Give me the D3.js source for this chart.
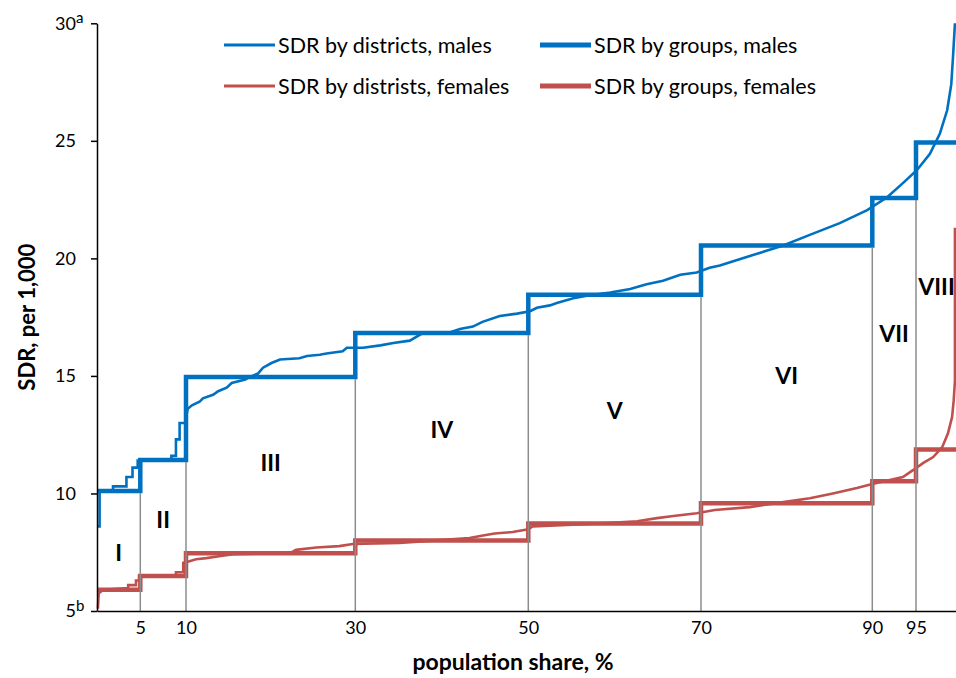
<!DOCTYPE html>
<html>
<head>
<meta charset="utf-8">
<script src="https://cdn.jsdelivr.net/npm/d3@7"></script>
<style>
  body { margin: 0; background: #fff; }
  text { font-family: Lato, "Open Sans", sans-serif; }
</style>
</head>
<body>
<script>
const width = 956;
const height = 678;

// group boundaries (population share, %) and group names
const groupBreaks = [0, 5, 10, 30, 50, 70, 90, 95, 100];
const groupNames = ["I", "II", "III", "IV", "V", "VI", "VII", "VIII"];
const groupMales = [10.1, 11.42, 14.95, 16.83, 18.45, 20.55, 22.57, 24.93];
const groupFemales = [5.9, 6.49, 7.46, 8.0, 8.72, 9.58, 10.52, 11.87];
const labelLevel = [7.46, 8.87, 11.3, 12.7, 13.5, 15.0, 16.8, 18.8];

// SDR by districts, [population share %, SDR]
const districtsMales = [
  [0, 8.6], [0.3, 8.6], [0.3, 10.1], [1.85, 10.1], [1.85, 10.3], [3.4, 10.3], [3.4, 10.7],
  [4.1, 10.7], [4.1, 11.1], [4.7, 11.1], [4.7, 11.4], [8.4, 11.4], [8.4, 11.6], [8.9, 11.6],
  [8.9, 12.3], [9.3, 12.3], [9.3, 13.0], [9.9, 13.0], [10.2, 13.6], [10.7, 13.75], [11.6, 13.9],
  [12.0, 14.05], [13.2, 14.2], [13.8, 14.35], [14.8, 14.5], [15.4, 14.7], [17.0, 14.85],
  [17.5, 14.95], [18.5, 15.1], [19.1, 15.35], [20.1, 15.55], [21.1, 15.7], [23.4, 15.75],
  [24.3, 15.85], [25.8, 15.9], [26.6, 15.95], [28.5, 16.05], [29.0, 16.2], [30.9, 16.2],
  [32.9, 16.3], [34.4, 16.4], [36.3, 16.5], [37.7, 16.8], [40.9, 16.85], [42.1, 17.0],
  [43.6, 17.1], [44.7, 17.3], [46.7, 17.55], [48.7, 17.65], [50.2, 17.75], [51.0, 17.9],
  [52.5, 18.0], [53.3, 18.1], [55.2, 18.3], [57.1, 18.43], [59.5, 18.55], [61.8, 18.7],
  [63.7, 18.9], [65.6, 19.05], [67.6, 19.3], [69.5, 19.4], [71.0, 19.6], [72.2, 19.7],
  [75.7, 20.1], [79.6, 20.55], [82.7, 21.0], [86.2, 21.5], [89.4, 22.05], [91.7, 22.6],
  [93.5, 23.2], [95.1, 23.75], [96.7, 24.45], [97.9, 25.3], [98.8, 26.3], [99.3, 27.4],
  [99.5, 28.5], [99.75, 30.0]
];
const districtsFemales = [
  [0.1, 5.1], [0.2, 5.75], [0.7, 5.9], [3.6, 5.98], [3.6, 6.1], [4.5, 6.1], [4.5, 6.3],
  [4.85, 6.3], [4.85, 6.5], [8.9, 6.5], [8.9, 6.65], [9.7, 6.65], [9.7, 7.05], [10.2, 7.1],
  [11.2, 7.2], [12.4, 7.25], [13.9, 7.33], [15.6, 7.42], [22.3, 7.46], [23.0, 7.6],
  [25.4, 7.7], [28.1, 7.76], [29.7, 7.85], [35.1, 7.9], [43.2, 8.1], [44.6, 8.2],
  [46.1, 8.3], [48.2, 8.36], [50.0, 8.48], [50.5, 8.6], [59.1, 8.74], [62.6, 8.82],
  [64.9, 8.95], [66.8, 9.04], [69.5, 9.16], [71.6, 9.3], [75.7, 9.42], [79.6, 9.63],
  [82.7, 9.8], [85.4, 10.0], [88.2, 10.23], [90.0, 10.4], [92.0, 10.57], [93.5, 10.7],
  [94.7, 11.0], [95.9, 11.3], [97.1, 11.55], [98.2, 11.97], [98.9, 12.56], [99.4, 13.25],
  [99.6, 13.97], [99.75, 14.8], [99.75, 21.3]
];

const yTicks = [5, 10, 15, 20, 25, 30];
const xTicks = [5, 10, 30, 50, 70, 90, 95];

const blue = "#0070C0";
const red = "#C0504D";

const x = d3.scaleLinear()
    .domain(groupBreaks)
    .range([97, 140.3, 186, 355.3, 528.3, 701, 872.3, 916, 957]);
const y = d3.scaleLinear()
    .domain([5, 30])
    .range([611, 23.3]);

const svg = d3.select("body").append("svg")
    .attr("width", width)
    .attr("height", height);

// step lines for groups: repeat last value at 100
const groupPoints = vals => groupBreaks.map((b, i) => [b, vals[Math.min(i, vals.length - 1)]]);

const line = d3.line().x(d => x(d[0])).y(d => y(d[1]));
const stepLine = d3.line().x(d => x(d[0])).y(d => y(d[1])).curve(d3.curveStepAfter);

svg.append("path")
    .datum(districtsFemales)
    .attr("d", line)
    .attr("fill", "none")
    .attr("stroke", red)
    .attr("stroke-width", 2.6);

svg.append("path")
    .datum(groupPoints(groupFemales))
    .attr("d", stepLine)
    .attr("fill", "none")
    .attr("stroke", red)
    .attr("stroke-width", 4.5);

svg.append("path")
    .datum(districtsMales)
    .attr("d", line)
    .attr("fill", "none")
    .attr("stroke", blue)
    .attr("stroke-width", 2.6);

svg.append("path")
    .datum(groupPoints(groupMales))
    .attr("d", stepLine)
    .attr("fill", "none")
    .attr("stroke", blue)
    .attr("stroke-width", 4.5);

// vertical separators between groups
svg.selectAll(".sep")
    .data(groupBreaks.slice(1, -1))
    .enter().append("line")
    .attr("class", "sep")
    .attr("x1", d => x(d))
    .attr("x2", d => x(d))
    .attr("y1", y(5))
    .attr("y2", (d, i) => y(groupMales[i]) + 2)
    .attr("stroke", "#8c8c8c")
    .attr("stroke-width", 1.5);

// group labels
svg.selectAll(".glabel")
    .data(groupNames)
    .enter().append("text")
    .attr("class", "glabel")
    .attr("x", (d, i) => x((groupBreaks[i] + groupBreaks[i + 1]) / 2))
    .attr("y", (d, i) => y(labelLevel[i]))
    .attr("dy", "0.35em")
    .attr("text-anchor", "middle")
    .attr("font-size", 23)
    .attr("font-weight", "bold")
    .text(d => d);

// axes
const yAxis = svg.append("g")
    .attr("transform", `translate(${x(0)},0)`)
    .call(d3.axisLeft(y).tickValues(yTicks).tickSize(6).tickPadding(15).tickSizeOuter(0));
yAxis.select(".domain").attr("stroke-width", 1.5);
yAxis.selectAll(".tick line").attr("stroke-width", 1.5);
yAxis.selectAll(".tick text")
    .attr("font-size", 18)
    .attr("font-family", "Lato, sans-serif")
    .each(function(d) {
      const sup = d === 30 ? "a" : d === 5 ? "b" : null;
      if (sup) {
        d3.select(this).append("tspan")
            .attr("dy", "-0.45em")
            .attr("font-size", 15)
            .text(sup);
      }
    });
// superscripts sit after the number, so shift those labels to keep numbers right-aligned
yAxis.selectAll(".tick text")
    .filter(d => d === 30 || d === 5)
    .attr("text-anchor", "start")
    .attr("x", function() {
      const t = d3.select(this);
      const numW = this.getSubStringLength(0, String(t.datum()).length);
      return -21 - numW;
    });

const xAxis = svg.append("g")
    .attr("transform", `translate(0,${y(5)})`)
    .call(d3.axisBottom(x).tickValues(xTicks).tickSize(0).tickPadding(10).tickFormat(d3.format("d")));
xAxis.select(".domain").attr("stroke-width", 1.5);
xAxis.selectAll(".tick text")
    .attr("font-size", 18)
    .attr("font-family", "Lato, sans-serif");

// axis titles
svg.append("text")
    .attr("transform", `translate(27,${y(17.5)}) rotate(-90)`)
    .attr("text-anchor", "middle")
    .attr("dy", "0.35em")
    .attr("font-size", 22)
    .attr("font-weight", "bold")
    .text("SDR, per 1,000");

svg.append("text")
    .attr("x", 513)
    .attr("y", 662)
    .attr("dy", "0.35em")
    .attr("text-anchor", "middle")
    .attr("font-size", 23)
    .attr("font-weight", "bold")
    .text("population share, %");

// legend
const legendItems = [
  { label: "SDR by districts, males", color: blue, w: 2.8, col: 0, row: 0 },
  { label: "SDR by groups, males", color: blue, w: 5, col: 1, row: 0 },
  { label: "SDR by distrists, females", color: red, w: 2.8, col: 0, row: 1 },
  { label: "SDR by groups, females", color: red, w: 5, col: 1, row: 1 }
];
const legend = svg.selectAll(".legend")
    .data(legendItems)
    .enter().append("g")
    .attr("class", "legend")
    .attr("transform", d => `translate(${d.col ? 540 : 224},${d.row ? 86 : 45})`);
legend.append("line")
    .attr("x1", 0).attr("x2", 51)
    .attr("stroke", d => d.color)
    .attr("stroke-width", d => d.w);
legend.append("text")
    .attr("x", 54)
    .attr("dy", "0.35em")
    .attr("font-size", 21.5)
    .text(d => d.label);
</script>
</body>
</html>
